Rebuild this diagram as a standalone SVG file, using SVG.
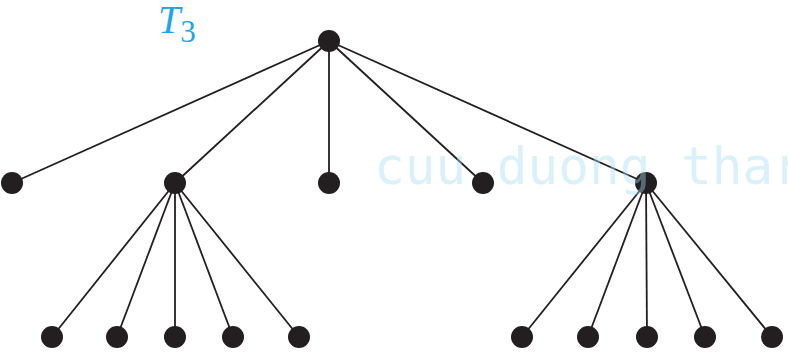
<svg xmlns="http://www.w3.org/2000/svg" width="788" height="352" viewBox="0 0 788 352">
<style>
.e{stroke:#231f20;stroke-width:1.8;fill:none}
.n{fill:#231f20}
.lbl{font-family:"Liberation Serif",serif;font-style:italic;fill:#1ea5ea}
.wm{font-family:"DejaVu Sans Mono",monospace;font-size:51px;fill:rgb(165,222,246);opacity:0.4}
</style>
<rect width="788" height="352" fill="#fff"/>
<text class="lbl" x="158" y="33" font-size="40">T<tspan font-size="31" dy="9" font-style="normal">3</tspan></text>
<g id="edges">
<line class="e" x1="329" y1="41" x2="12" y2="183"/>
<line class="e" x1="329" y1="41" x2="175" y2="183"/>
<line class="e" x1="329" y1="41" x2="329" y2="183"/>
<line class="e" x1="329" y1="41" x2="483" y2="183"/>
<line class="e" x1="329" y1="41" x2="646" y2="183"/>
<line class="e" x1="175" y1="183" x2="52" y2="337"/>
<line class="e" x1="175" y1="183" x2="117" y2="337"/>
<line class="e" x1="175" y1="183" x2="175" y2="337"/>
<line class="e" x1="175" y1="183" x2="233" y2="337"/>
<line class="e" x1="175" y1="183" x2="299" y2="337"/>
<line class="e" x1="646" y1="183" x2="522" y2="337"/>
<line class="e" x1="646" y1="183" x2="588" y2="337"/>
<line class="e" x1="646" y1="183" x2="647" y2="337"/>
<line class="e" x1="646" y1="183" x2="705" y2="337"/>
<line class="e" x1="646" y1="183" x2="772" y2="337"/>
</g>
<g id="root"><circle class="n" cx="329" cy="41" r="11"/></g>
<g id="a1"><circle class="n" cx="12" cy="183" r="11"/></g>
<g id="a2"><circle class="n" cx="175" cy="183" r="11"/></g>
<g id="a3"><circle class="n" cx="329" cy="183" r="11"/></g>
<g id="a4"><circle class="n" cx="483" cy="183" r="11" fill="#444"/></g>
<g id="a5"><circle class="n" cx="646" cy="183" r="11"/></g>
<g id="b1"><circle class="n" cx="52" cy="337" r="11"/></g>
<g id="b2"><circle class="n" cx="117" cy="337" r="11"/></g>
<g id="b3"><circle class="n" cx="175" cy="337" r="11"/></g>
<g id="b4"><circle class="n" cx="233" cy="337" r="11"/></g>
<g id="b5"><circle class="n" cx="299" cy="337" r="11"/></g>
<g id="c1"><circle class="n" cx="522" cy="337" r="11"/></g>
<g id="c2"><circle class="n" cx="588" cy="337" r="11"/></g>
<g id="c3"><circle class="n" cx="647" cy="337" r="11"/></g>
<g id="c4"><circle class="n" cx="705" cy="337" r="11"/></g>
<g id="c5"><circle class="n" cx="772" cy="337" r="11"/></g>
<text class="wm" x="374" y="184">cuu duong thar</text>
</svg>
